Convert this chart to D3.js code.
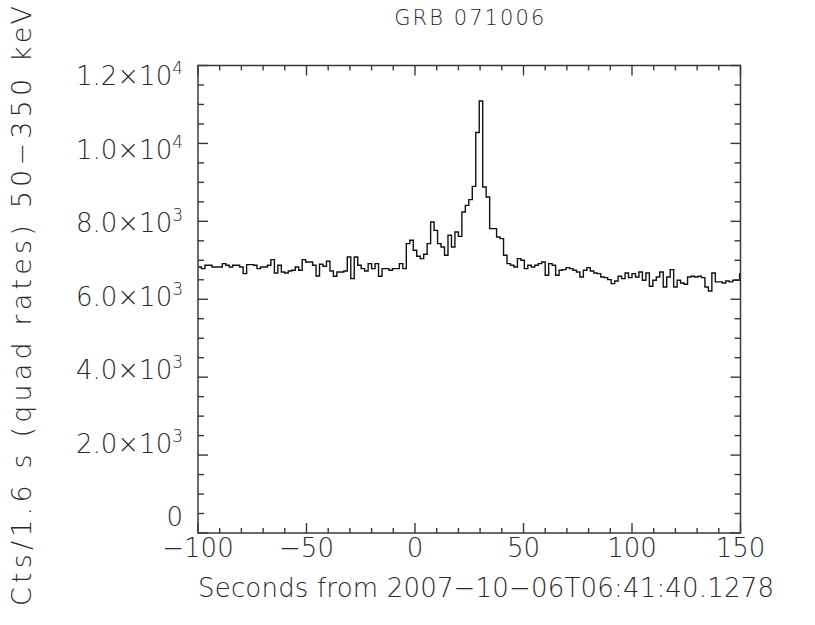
<!DOCTYPE html>
<html>
<head>
<meta charset="utf-8">
<script src="https://cdn.jsdelivr.net/npm/d3@7"></script>
<style>
  body { margin: 0; background: #fff; }
  text { font-family: "DejaVu Sans", sans-serif; font-weight: 200; fill: #2a2a2a; }
</style>
</head>
<body>
<div id="chart"></div>
<script>
// light curve data: 1.6 s bins starting at -100 s
var binStart = -100;
var binWidth = 1.6;
var counts = [
  6829, 6786, 6872, 6872, 6829, 6829, 6829, 6915, 6872, 6829,
  6872, 6872, 6829, 6658, 6889, 6889, 6872, 6786, 6829, 6829,
  6872, 7017, 6675, 6872, 6701, 6675, 6727, 6744, 6829, 6744,
  7017, 6957, 6957, 6872, 6598, 6898, 6846, 6975, 6727, 6590,
  6701, 6701, 6727, 7085, 6530, 7085, 6872, 6786, 6727, 6915,
  6786, 6915, 6590, 6786, 6786, 6744, 6786, 6786, 6915, 6786,
  7427, 7513, 7256, 7102, 7043, 7154, 7427, 7983, 7769, 7427,
  7341, 7128, 7641, 7341, 7726, 7615, 8239, 8410, 8556, 8897,
  10280, 11090, 8880, 8624, 7812, 7812, 7598, 7556, 7128, 6915,
  6872, 6829, 7043, 7000, 6786, 6872, 6829, 6872, 6915, 6957,
  6615, 6915, 6872, 6615, 6744, 6761, 6812, 6786, 6744, 6701,
  6573, 6744, 6812, 6727, 6675, 6658, 6573, 6556, 6504, 6402,
  6470, 6590, 6530, 6675, 6556, 6658, 6573, 6701, 6487, 6675,
  6333, 6487, 6573, 6701, 6316, 6573, 6761, 6316, 6487, 6419,
  6385, 6573, 6590, 6573, 6590, 6556, 6316, 6213, 6675, 6445,
  6445, 6419, 6470, 6445, 6487, 6487, 6658
];

// axes
var xDomain = [-100, 150];
var yDomain = [0, 12000];
var xMajor = [-100, -50, 0, 50, 100, 150];
var xMinor = d3.range(-100, 151, 10);
var yMajor = [0, 2000, 4000, 6000, 8000, 10000, 12000];
var yMinor = d3.range(0, 12001, 500);
var yLabels = [["0", ""], ["2.0\u00d710", "3"], ["4.0\u00d710", "3"], ["6.0\u00d710", "3"],
               ["8.0\u00d710", "3"], ["1.0\u00d710", "4"], ["1.2\u00d710", "4"]];

var title = "GRB 071006";
var xTitle = "Seconds from 2007\u221210\u221206T06:41:40.1278";
var yTitle = "Cts/1.6 s (quad rates) 50\u2212350 keV";

var svg = d3.select("#chart").append("svg")
    .attr("width", 815)
    .attr("height", 625);

var x = d3.scaleLinear().domain(xDomain).range([198, 740.5]);
var y = d3.scaleLinear().domain(yDomain).range([533, 65.5]);
// the labels sit on a slightly tighter scale than the ticks
var yLab = d3.scaleLinear().domain(yDomain).range([517, 76]);

svg.append("clipPath").attr("id", "plotclip")
  .append("rect")
    .attr("x", x(xDomain[0])).attr("y", y(yDomain[1]))
    .attr("width", x(xDomain[1]) - x(xDomain[0]))
    .attr("height", y(yDomain[0]) - y(yDomain[1]));

// step histogram
var pts = counts.map(function(c, i){ return [binStart + i * binWidth, c]; });
pts.push([binStart + counts.length * binWidth, counts[counts.length - 1]]);

svg.append("path")
    .datum(pts)
    .attr("clip-path", "url(#plotclip)")
    .attr("fill", "none")
    .attr("stroke", "#111")
    .attr("stroke-width", 1.4)
    .attr("d", d3.line()
        .x(function(d){ return x(d[0]); })
        .y(function(d){ return y(d[1]); })
        .curve(d3.curveStepAfter));

// frame
var tickColor = "#3a3a3a";
svg.append("rect")
    .attr("x", x(xDomain[0])).attr("y", y(yDomain[1]))
    .attr("width", x(xDomain[1]) - x(xDomain[0]))
    .attr("height", y(yDomain[0]) - y(yDomain[1]))
    .attr("fill", "none")
    .attr("stroke", tickColor)
    .attr("stroke-width", 1.5);

// x ticks, bottom and top, pointing inward
function xTickLen(v){ return xMajor.indexOf(v) >= 0 ? 10 : 5; }
svg.selectAll(".xtb").data(xMinor).enter().append("line")
    .attr("x1", d => x(d)).attr("x2", d => x(d))
    .attr("y1", y(0)).attr("y2", d => y(0) - xTickLen(d))
    .attr("stroke", tickColor).attr("stroke-width", 1.4);
svg.selectAll(".xtt").data(xMinor).enter().append("line")
    .attr("x1", d => x(d)).attr("x2", d => x(d))
    .attr("y1", y(12000)).attr("y2", d => y(12000) + xTickLen(d))
    .attr("stroke", tickColor).attr("stroke-width", 1.4);

// y ticks, left and right
function yTickLen(v){ return yMajor.indexOf(v) >= 0 ? 10 : 6; }
svg.selectAll(".ytl").data(yMinor).enter().append("line")
    .attr("y1", d => y(d)).attr("y2", d => y(d))
    .attr("x1", x(-100)).attr("x2", d => x(-100) + yTickLen(d))
    .attr("stroke", tickColor).attr("stroke-width", 1.4);
svg.selectAll(".ytr").data(yMinor).enter().append("line")
    .attr("y1", d => y(d)).attr("y2", d => y(d))
    .attr("x1", x(150)).attr("x2", d => x(150) - yTickLen(d))
    .attr("stroke", tickColor).attr("stroke-width", 1.4);

// x tick labels
svg.selectAll(".xl").data(xMajor).enter().append("text")
    .attr("x", d => x(d))
    .attr("y", 557)
    .attr("text-anchor", "middle")
    .style("font-size", "26px")
    .text(d => d < 0 ? "\u2212" + Math.abs(d) : String(d));

// y tick labels with superscript exponent
var yl = svg.selectAll(".yl").data(yMajor).enter().append("text")
    .attr("x", 183)
    .attr("y", d => yLab(d) + 9)
    .attr("text-anchor", "end")
    .style("font-size", "26px");
yl.append("tspan").text((d, i) => yLabels[i][0]);
yl.append("tspan")
    .attr("dy", -11)
    .style("font-size", "17px")
    .text((d, i) => yLabels[i][1]);

// titles
svg.append("text")
    .attr("x", (x(-100) + x(150)) / 2)
    .attr("y", 25)
    .attr("text-anchor", "middle")
    .attr("textLength", 150)
    .attr("lengthAdjust", "spacing")
    .style("font-size", "21px")
    .text(title);

svg.append("text")
    .attr("x", 486)
    .attr("y", 597)
    .attr("text-anchor", "middle")
    .attr("textLength", 576)
    .attr("lengthAdjust", "spacing")
    .style("font-size", "26px")
    .text(xTitle);

svg.append("text")
    .attr("transform", "translate(31,306) rotate(-90)")
    .attr("text-anchor", "middle")
    .attr("textLength", 600)
    .attr("lengthAdjust", "spacing")
    .style("font-size", "27px")
    .text(yTitle);
</script>
</body>
</html>
